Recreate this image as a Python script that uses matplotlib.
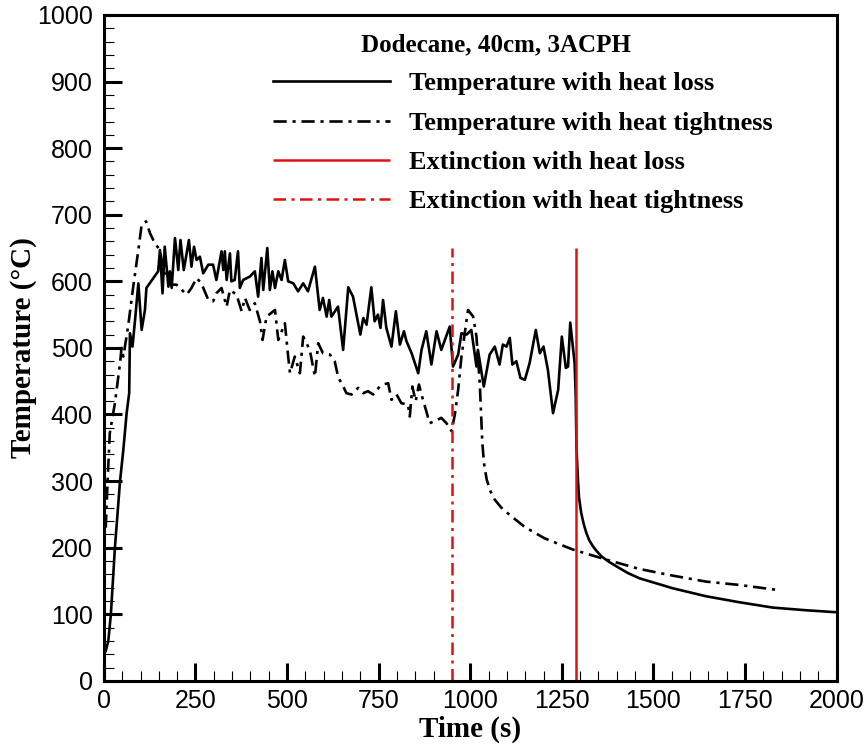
import matplotlib
matplotlib.use("Agg")
import matplotlib.pyplot as plt
from matplotlib.ticker import MultipleLocator

# heat loss case: time (s) and temperature (°C)
time_loss = [5, 12, 19, 30, 44, 53, 62, 69, 71, 78, 85, 94, 103, 112, 116, 148, 153, 160, 166, 176,
             180, 185, 194, 203, 209, 218, 232, 239, 246, 253, 262, 271, 285, 298, 307, 321, 326, 330,
             335, 344, 348, 357, 366, 371, 380, 398, 412, 421, 430, 435, 446, 453, 460, 467, 476, 485,
             494, 503, 517, 530, 544, 557, 576, 589, 598, 608, 615, 621, 639, 653, 667, 680, 700, 708,
             717, 730, 739, 748, 755, 762, 771, 785, 797, 808, 819, 826, 840, 858, 867, 880, 894, 908,
             921, 944, 953, 967, 976, 990, 1003, 1017, 1021, 1037, 1053, 1067, 1080, 1089, 1099, 1108,
             1115, 1126, 1137, 1149, 1162, 1179, 1190, 1200, 1212, 1226, 1240, 1250, 1261, 1267, 1273,
             1285, 1288, 1290, 1294, 1297, 1303, 1310, 1317, 1325, 1335, 1345, 1358, 1378, 1399, 1430,
             1462, 1553, 1644, 1735, 1826, 1917, 2000]
temp_loss = [45, 60, 100, 200, 300, 347, 402, 432, 522, 502, 542, 597, 527, 557, 590, 615, 647, 582, 652, 592,
             615, 590, 665, 617, 662, 617, 662, 622, 652, 632, 637, 612, 625, 625, 602, 645, 617, 645,
             602, 642, 600, 602, 645, 590, 602, 607, 615, 577, 635, 587, 650, 587, 615, 590, 615, 602,
             632, 600, 597, 585, 597, 585, 622, 557, 575, 547, 572, 547, 562, 497, 591, 577, 520, 545,
             535, 591, 540, 550, 530, 572, 530, 502, 555, 505, 525, 510, 492, 462, 497, 525, 475, 525,
             497, 532, 472, 490, 522, 520, 527, 472, 497, 442, 490, 502, 475, 505, 502, 515,
             475, 480, 455, 452, 477, 527, 492, 502, 467, 402, 437, 517, 470, 472, 538,
             477, 427, 350, 302, 275, 252, 235, 222, 211, 202, 195, 187, 179, 172, 162,
             154, 139, 127, 118, 110, 106, 103]

# heat tightness case
time_tight = [5, 10, 16, 30, 44, 48, 53, 66, 80, 94, 103, 115, 126, 139, 153, 162, 180, 198, 226, 239,
              253, 266, 285, 298, 307, 321, 335, 344, 362, 376, 385, 398, 412, 426, 433, 444, 467, 476,
              494, 503, 508, 521, 535, 544, 562, 576, 585, 598, 617, 630, 640, 649, 662, 676, 694, 708,
              721, 735, 753, 762, 776, 785, 799, 812, 830, 835, 842, 851, 860, 871, 880, 889, 903, 921,
              935, 949, 958, 967, 976, 985, 994, 1008, 1017, 1026, 1033, 1038, 1045, 1055, 1067, 1085,
              1108, 1149, 1203, 1281, 1372, 1462, 1553, 1644, 1735, 1845]
temp_tight = [230, 300, 372, 417, 477, 500, 487, 532, 592, 647, 685, 690, 672, 657, 647, 617, 595, 595, 580, 590,
              605, 597, 572, 570, 582, 590, 562, 587, 580, 555, 575, 557, 567, 540, 512, 547, 557, 512,
              537, 487, 462, 487, 462, 517, 497, 457, 507, 492, 490, 480, 455, 447, 432, 430, 440, 432,
              435, 430, 442, 445, 447, 422, 430, 417, 415, 397, 442, 420, 445, 422, 405, 387, 390, 395,
              387, 375, 400, 437, 487, 522, 557, 547, 517, 447, 357, 325, 302, 285, 272, 260,
              249, 231, 214, 197, 182, 168, 158, 149, 144, 136]

# extinction times (s)
ext_loss = 1290
ext_tight = 950
ext_top = 650

serif = "Liberation Serif"
sans = "Liberation Sans"
dashdot = (0, (5, 2.2, 1.2, 2.2))

fig = plt.figure(figsize=(8.66, 7.49), dpi=100)
ax = fig.add_axes([0.120, 0.091, 0.846, 0.889])

ax.plot(time_loss, temp_loss, color="black", lw=1.9, label="Temperature with heat loss")
ax.plot(time_tight, temp_tight, color="black", lw=1.9, ls=dashdot,
        label="Temperature with heat tightness")
ax.vlines(ext_loss, 0, ext_top, color="#e01010", lw=1.8, label="Extinction with heat loss")
ax.vlines(ext_tight, 0, ext_top, color="#e01010", lw=1.8, linestyles=[dashdot],
          label="Extinction with heat tightness")

ax.set_xlim(0, 2000)
ax.set_ylim(0, 1000)
ax.xaxis.set_major_locator(MultipleLocator(250))
ax.xaxis.set_minor_locator(MultipleLocator(50))
ax.yaxis.set_major_locator(MultipleLocator(100))
ax.yaxis.set_minor_locator(MultipleLocator(20))
ax.tick_params(which="major", direction="in", length=13, width=2.2, labelsize=18)
ax.tick_params(which="minor", direction="in", length=7, width=0.8)
ax.tick_params(axis="x", pad=6)
ax.tick_params(axis="y", pad=8)
for lab in ax.get_xticklabels() + ax.get_yticklabels():
    lab.set_fontfamily(sans)
for sp in ax.spines.values():
    sp.set_linewidth(2.2)

ax.set_xlabel("Time (s)", fontfamily=serif, fontweight="bold", fontsize=21, labelpad=2)
ax.set_ylabel("Temperature (°C)", fontfamily=serif, fontweight="bold", fontsize=21, labelpad=0)

ax.text(0.535, 0.955, "Dodecane, 40cm, 3ACPH", transform=ax.transAxes, ha="center", va="center",
        fontfamily=serif, fontweight="bold", fontsize=18)
ax.legend(loc="upper left", bbox_to_anchor=(0.199, 0.950), frameon=False,
          handlelength=4.4, handletextpad=0.75, labelspacing=0.6,
          prop={"family": serif, "weight": "bold", "size": 19})

fig.savefig("out.png", dpi=100)
